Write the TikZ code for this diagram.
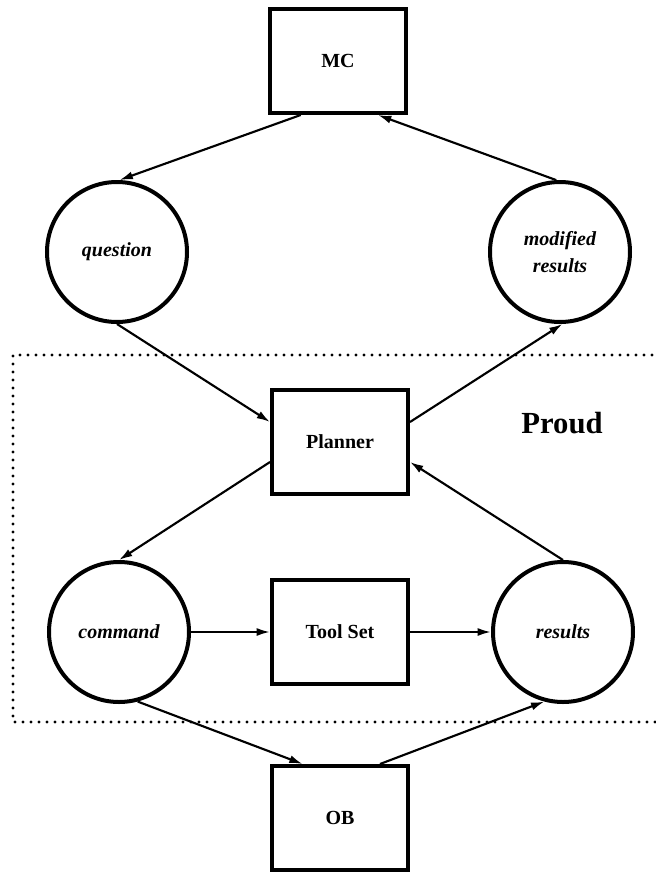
\documentclass[tikz,border=0pt]{standalone}
\usepackage{fontspec}
\setmainfont{Liberation Serif}
\usetikzlibrary{arrows.meta}
\begin{document}
\begin{tikzpicture}[x=0.75pt,y=-0.75pt,
  box/.style={draw, line width=3pt, minimum width=102pt, minimum height=78pt,
    inner sep=0pt, font=\bfseries\fontsize{15}{17}\selectfont},
  bubble/.style={draw, circle, line width=3pt, minimum size=105pt, inner sep=0pt,
    align=center, font=\bfseries\itshape\fontsize{15}{20}\selectfont},
  flow/.style={line width=1.6pt, -{Latex[length=10pt,width=6pt]}},
  frame/.style={line width=2.4pt, dash pattern=on 0pt off 6pt, line cap=round}]
\useasboundingbox (0,0) rectangle (656,872);

% system boundary
\draw[frame] (700,355) -- (13,355) -- (13,722) -- (700,722);
\node[font=\bfseries\fontsize{23}{25}\selectfont] (proud) at (562,423) {Proud};

% boxes
\node[box] (mc) at (338,61) {MC};
\node[box] (pl) at (340,442) {Planner};
\node[box] (ts) at (340,632) {Tool Set};
\node[box] (ob) at (340,818) {OB};

% circles
\node[bubble] (q) at (117,252) {question};
\node[bubble] (mr) at (560,252) {modified\\results};
\node[bubble] (cmd) at (119,632) {command};
\node[bubble] (res) at (563,632) {results};

% connectors
\draw[flow] ([xshift=-28pt]mc.south) -- (q.88);
\draw[flow] (mr.93) -- ([xshift=30pt]mc.south);
\draw[flow] (q.south) -- ([yshift=15pt]pl.west);
\draw[flow] ([yshift=15pt]pl.east) -- (mr.-88);
\draw[flow] ([yshift=-15pt]pl.west) -- (cmd.north);
\draw[flow] (res.north) -- ([yshift=-15pt]pl.east);
\draw[flow] (cmd.east) -- (ts.west);
\draw[flow] (ts.east) -- (res.west);
\draw[flow] (cmd.-75) -- ([xshift=-28pt]ob.north);
\draw[flow] ([xshift=30pt]ob.north) -- (res.-105);
\end{tikzpicture}
\end{document}
